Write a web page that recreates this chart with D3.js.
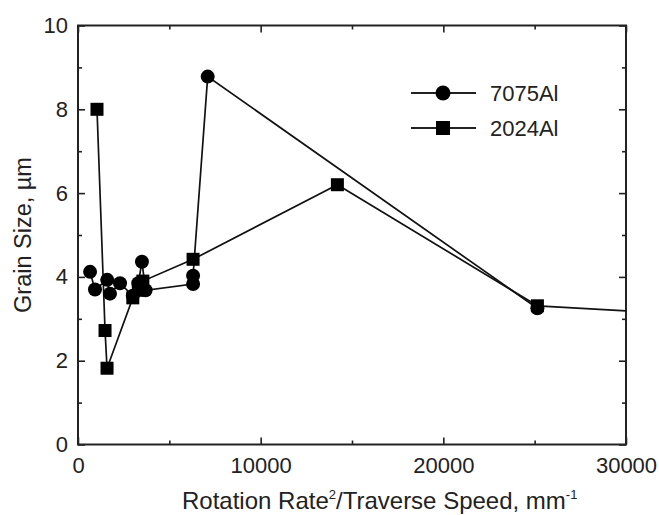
<!DOCTYPE html>
<html>
<head>
<meta charset="utf-8">
<script src="https://cdn.jsdelivr.net/npm/d3@7"></script>
<style>
  body { margin: 0; background: #fff; }
  svg { display: block; font-family: "Liberation Sans", Arial, sans-serif; }
  .tick text { font-size: 22px; fill: #222; }
</style>
</head>
<body>
<div id="chart-container"></div>
<script>
// values
const al7075X = [660, 930, 1600, 1750, 2300, 3000, 3300, 3500, 3700, 6300, 6300, 7100, 25150];
const al7075Y = [4.12, 3.70, 3.93, 3.60, 3.85, 3.55, 3.85, 4.36, 3.68, 3.83, 4.03, 8.78, 3.25];

const al2024X = [1040, 1480, 1590, 3000, 3300, 3550, 6300, 14200, 25150, 32000];
const al2024Y = [8.00, 2.72, 1.82, 3.50, 3.68, 3.90, 4.42, 6.20, 3.31, 3.14];

const xMajor = [0, 10000, 20000, 30000];
const xMinor = [5000, 15000, 25000];
const yMajor = [0, 2, 4, 6, 8, 10];
const yMinor = [1, 3, 5, 7, 9];

const seriesNames = ['7075Al', '2024Al'];

const W = 659, H = 515;
const plotL = 78, plotR = 626, plotT = 25.5, plotB = 444.5;

const svg = d3.select('#chart-container').append('svg').
attr('width', W).attr('height', H);

const x = d3.scaleLinear().domain([0, 30000]).range([plotL, plotR]);
const y = d3.scaleLinear().domain([0, 10]).range([plotB, plotT]);

function tickAxis(axis, values, size, labels, pad) {
  return axis.tickValues(values).tickSize(size).tickPadding(pad).
  tickFormat(labels ? d3.format('d') : '');
}

function drawAxis(gen, transform) {
  const g = svg.append('g').attr('transform', transform).call(gen);
  g.select('.domain').remove();
  g.selectAll('.tick line').attr('stroke', '#222').attr('stroke-width', 1.6);
  return g;
}

// bottom / top
drawAxis(tickAxis(d3.axisBottom(x), xMajor, -7, true, 13), `translate(0,${plotB})`);
drawAxis(tickAxis(d3.axisBottom(x), xMinor, -4, false, 0), `translate(0,${plotB})`);
drawAxis(tickAxis(d3.axisTop(x), xMajor, -7, false, 0), `translate(0,${plotT})`);
drawAxis(tickAxis(d3.axisTop(x), xMinor, -4, false, 0), `translate(0,${plotT})`);

// left / right
drawAxis(tickAxis(d3.axisLeft(y), yMajor, -7, true, 10), `translate(${plotL},0)`);
drawAxis(tickAxis(d3.axisLeft(y), yMinor, -4, false, 0), `translate(${plotL},0)`);
drawAxis(tickAxis(d3.axisRight(y), yMajor, -7, false, 0), `translate(${plotR},0)`);
drawAxis(tickAxis(d3.axisRight(y), yMinor, -4, false, 0), `translate(${plotR},0)`);

svg.append('rect').
attr('x', plotL).attr('y', plotT).
attr('width', plotR - plotL).attr('height', plotB - plotT).
attr('fill', 'none').attr('stroke', '#222').attr('stroke-width', 2);

svg.append('clipPath').attr('id', 'plot-clip').
append('rect').attr('x', plotL).attr('y', plotT).
attr('width', plotR - plotL).attr('height', plotB - plotT);

const line = d3.line().x(d => x(d[0])).y(d => y(d[1]));
const plot = svg.append('g').attr('clip-path', 'url(#plot-clip)');

const pts7075 = al7075X.map((v, i) => [v, al7075Y[i]]);
const pts2024 = al2024X.map((v, i) => [v, al2024Y[i]]);

[pts7075, pts2024].forEach(pts => {
  plot.append('path').datum(pts).
  attr('d', line).
  attr('fill', 'none').
  attr('stroke', '#111').
  attr('stroke-width', 1.7);
});

plot.selectAll('.dot-7075').data(pts7075).enter().
append('circle').attr('class', 'dot-7075').
attr('cx', d => x(d[0])).attr('cy', d => y(d[1])).
attr('r', 7).attr('fill', '#000');

const sq = 13;
plot.selectAll('.dot-2024').data(pts2024.filter(d => d[0] <= 30000)).enter().
append('rect').attr('class', 'dot-2024').
attr('x', d => x(d[0]) - sq / 2).attr('y', d => y(d[1]) - sq / 2).
attr('width', sq).attr('height', sq).attr('fill', '#000');

// legend
const legend = svg.append('g').selectAll('g').
data(seriesNames).enter().append('g').
attr('transform', (d, i) => `translate(411, ${93 + i * 35})`);

legend.append('line').
attr('x1', 0).attr('x2', 65).
attr('stroke', '#222').attr('stroke-width', 1.8);

legend.filter((d, i) => i === 0).append('circle').
attr('cx', 32).attr('r', 7.5).attr('fill', '#000');

legend.filter((d, i) => i === 1).append('rect').
attr('x', 32 - 7).attr('y', -7).attr('width', 14).attr('height', 14).attr('fill', '#000');

legend.append('text').
attr('x', 79).attr('dy', '0.36em').
style('font-size', '22px').attr('fill', '#222').
text(d => d);

// axis titles
svg.append('text').
attr('transform', `translate(31, ${(plotT + plotB) / 2}) rotate(-90)`).
attr('text-anchor', 'middle').
style('font-size', '23.5px').attr('fill', '#222').
text('Grain Size, \u00b5m');

const xTitle = svg.append('text').
attr('x', 182).attr('y', 509).
style('font-size', '24px').attr('fill', '#222');
xTitle.append('tspan').text('Rotation Rate');
xTitle.append('tspan').attr('dy', -10).style('font-size', '13px').text('2');
xTitle.append('tspan').attr('dy', 10).text('/Traverse Speed, mm');
xTitle.append('tspan').attr('dy', -10).style('font-size', '13px').text('-1');
</script>
</body>
</html>
